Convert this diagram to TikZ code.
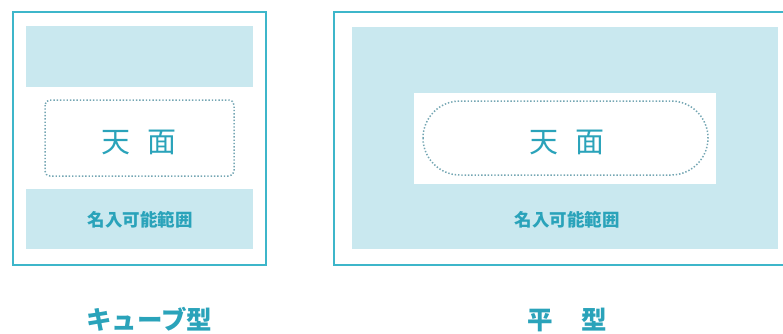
\documentclass[tikz,border=0pt]{standalone}
\usepackage{fontspec}
\newfontfamily\cjk{Noto Sans CJK JP}
\definecolor{frame}{HTML}{3DB6CA}
\definecolor{zone}{HTML}{C9E8EF}
\definecolor{ink}{HTML}{2AA3BA}
\definecolor{dots}{HTML}{74A6B3}
\begin{document}
\begin{tikzpicture}[x=1pt,y=-1pt,
  outerbox/.style={draw=frame,line width=1.6pt},
  zonebox/.style={fill=zone,draw=none},
  whitebox/.style={fill=white,draw=none},
  dotbox/.style={draw=dots,line width=1.5pt,dash pattern=on 1.4pt off 1.9pt},
  toptext/.style={text=ink,font=\cjk\fontsize{29}{29}\selectfont},
  areatext/.style={text=ink,font=\cjk\bfseries\fontsize{17.5}{18}\selectfont},
  typetext/.style={text=ink,font=\cjk\bfseries\fontsize{25.5}{26}\selectfont}]
\useasboundingbox (0,0) rectangle (783,333);
% left panel
\draw[outerbox] (13,12) rectangle (266,265);
\fill[zonebox] (26,26) rectangle (253,87);
\fill[zonebox] (26,189) rectangle (253,249);
\draw[dotbox,rounded corners=5pt] (45,100) rectangle (234,176);
\node[toptext] (lt) at (139,142) {天\hspace{18pt}面};
\node[areatext] (la) at (140,220) {名入可能範囲};
\node[typetext] (ll) at (149,319.5) {キューブ型};
% right panel
\draw[outerbox] (334,12) rectangle (795,265);
\fill[zonebox] (352,27) rectangle (778,249);
\fill[whitebox] (414,93) rectangle (716,184);
\draw[dotbox,rounded corners=37pt] (423,101) rectangle (708,175);
\node[toptext] (rt) at (567,142) {天\hspace{18pt}面};
\node[areatext] (ra) at (567,220) {名入可能範囲};
\node[typetext] (rl) at (567,319.5) {平\hspace{28pt}型};
\end{tikzpicture}
\end{document}
